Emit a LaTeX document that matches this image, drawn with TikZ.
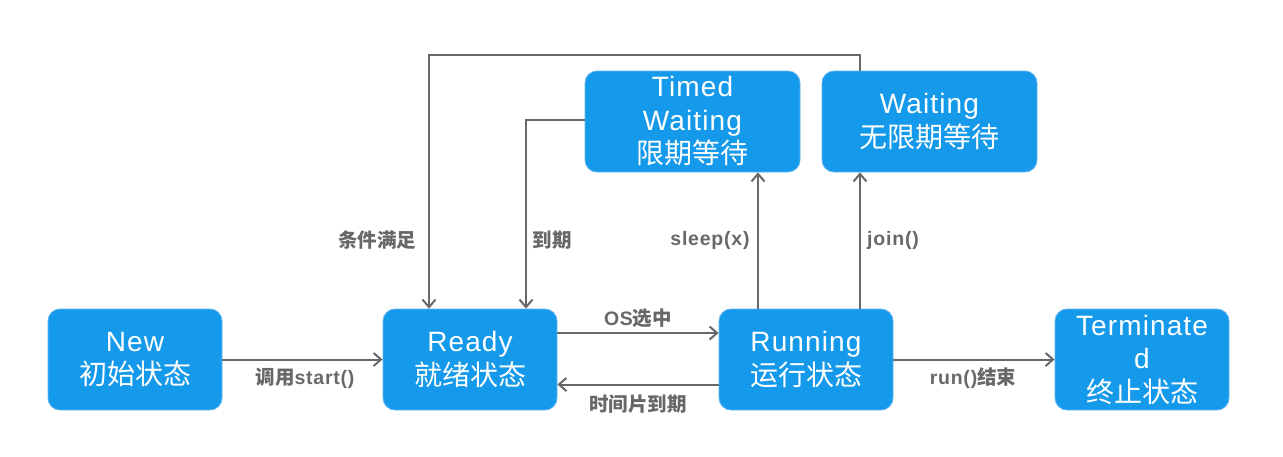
\documentclass[tikz,border=0pt]{standalone}
\usepackage{fontspec}
\setmainfont{Liberation Sans}[LetterSpace=4]
\newfontfamily\cjk{Noto Sans CJK SC}
\usetikzlibrary{arrows.meta}
\definecolor{boxblue}{RGB}{21,153,234}
\definecolor{boxedge}{RGB}{95,182,240}
\definecolor{linegray}{RGB}{104,104,104}
\begin{document}
\begin{tikzpicture}[x=1pt,y=-1pt,
  state/.style={rectangle, rounded corners=12pt, fill=boxblue, draw=boxedge, line width=0.8pt,
    text=white, align=center, font=\fontsize{28}{33.5}\selectfont, inner sep=0pt,
    minimum width=174pt, minimum height=101pt},
  wstate/.style={state, minimum width=215pt},
  conn/.style={draw=linegray, line width=2pt, -{Straight Barb[length=7.5pt,width=13pt]}},
  lbl/.style={text=linegray, font=\bfseries\fontsize{19.5}{21}\selectfont, inner sep=0pt}]
\useasboundingbox (0,0) rectangle (1283,456);
\fill[white] (0,0) rectangle (1283,456);
\node[state] (new) at (135,359.5) {New\\{\cjk 初始状态}};
\node[state] (ready) at (470,359.5) {Ready\\{\cjk 就绪状态}};
\node[state] (running) at (806,359.5) {Running\\{\cjk 运行状态}};
\node[state] (term) at (1142,359.5) {Terminate\\d\\{\cjk 终止状态}};
\node[wstate] (tw) at (692.5,121.5) {Timed\\Waiting\\{\cjk 限期等待}};
\node[wstate] (wait) at (929.5,121.5) {Waiting\\{\cjk 无限期等待}};
\draw[conn] (new.east) -- (ready.west);
\draw[conn] ([yshift=26.5pt]ready.east) -- ([yshift=26.5pt]running.west);
\draw[conn] ([yshift=-25pt]running.west) -- ([yshift=-25pt]ready.east);
\draw[conn] (running.east) -- (term.west);
\draw[conn] ([xshift=-48pt]running.north) -- ([xshift=-48pt]running.north |- tw.south);
\draw[conn] ([xshift=54pt]running.north) -- ([xshift=54pt]running.north |- wait.south);
\draw[conn] ([xshift=-69.5pt]wait.north) -- ++(0,-16) -| ([xshift=-41pt]ready.north);
\draw[conn] ([yshift=1.5pt]tw.west) -| ([xshift=56pt]ready.north);
\node[lbl] (l1) at (305,378) {{\cjk 调用}start()};
\node[lbl] (l2) at (638,318) {OS{\cjk 选中}};
\node[lbl] (l3) at (638,404) {\cjk 时间片到期};
\node[lbl] (l4) at (973,378) {run(){\cjk 结束}};
\node[lbl] (l5) at (377,240) {\cjk 条件满足};
\node[lbl] (l6) at (552,240) {\cjk 到期};
\node[lbl] (l7) at (710,240) {sleep(x)};
\node[lbl] (l8) at (893,240) {join()};
\end{tikzpicture}
\end{document}
